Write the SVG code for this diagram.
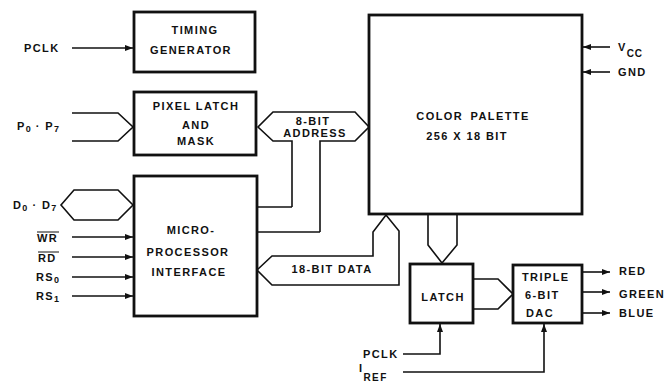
<svg xmlns="http://www.w3.org/2000/svg" width="664" height="383" viewBox="0 0 664 383">
<defs>
<marker id="arr" viewBox="0 0 8 6" refX="8" refY="3" markerWidth="8" markerHeight="6" markerUnits="userSpaceOnUse" orient="auto">
<path d="M0,0 L8,3 L0,6 z" fill="#111"/>
</marker>
<style>
.box{fill:#fff;stroke:#111;stroke-width:2.8}
.ln{fill:none;stroke:#111;stroke-width:1.6;stroke-linejoin:miter}
.ar{fill:none;stroke:#111;stroke-width:1.6;marker-end:url(#arr)}
.t{font-family:"Liberation Sans",Arial,sans-serif;font-weight:bold;font-size:11px;letter-spacing:1.4px;fill:#111}
.m{text-anchor:middle}
.s{font-size:9px;letter-spacing:0.6px}
</style>
</defs>
<rect width="664" height="383" fill="#fff"/>

<g id="connectors">
<line class="ar" x1="72" y1="48" x2="133" y2="48"/>
<path class="ln" d="M72,113 L118,113 L133,127 L118,141 L72,141"/>
<path class="ln" d="M133,205 L118,190 L74,190 L61,205 L74,220 L118,220 Z"/>
<line class="ar" x1="72" y1="237" x2="133" y2="237"/>
<line class="ar" x1="72" y1="257" x2="133" y2="257"/>
<line class="ar" x1="72" y1="277" x2="133" y2="277"/>
<line class="ar" x1="72" y1="296" x2="133" y2="296"/>
<path class="ln" d="M292,207 L292,141 L273,141 L258,127 L273,112 L355,112 L369,127 L355,141 L320,141 L320,232"/>
<path class="ln" d="M257,207 L292,207"/>
<path class="ln" d="M257,232 L320,232"/>
<path class="ln" d="M257,270 L272,256 L373,256 L373,232 L386,215 L399,231 L399,285 L272,285 Z"/>
<path class="ln" d="M428,214 L428,245 L442,263 L457,245 L457,214"/>
<path class="ln" d="M473,279 L498,279 L513,294 L498,309 L473,309"/>
<line class="ar" x1="610" y1="47" x2="583" y2="47"/>
<line class="ar" x1="610" y1="72" x2="583" y2="72"/>
<line class="ar" x1="582" y1="272" x2="610" y2="272"/>
<line class="ar" x1="582" y1="292" x2="610" y2="292"/>
<line class="ar" x1="582" y1="313" x2="610" y2="313"/>
<path class="ar" d="M403,354 L440,354 L440,324"/>
<path class="ar" d="M403,372 L544,372 L544,324"/>
</g>

<g id="timing">
<rect class="box" x="134" y="12" width="121" height="60"/>
<text class="t m" x="195" y="34">TIMING</text>
<text class="t m" x="191" y="54">GENERATOR</text>
</g>

<g id="pixel-latch">
<rect class="box" x="134" y="92" width="122" height="63"/>
<text class="t m" x="196" y="110">PIXEL LATCH</text>
<text class="t m" x="196" y="129">AND</text>
<text class="t m" x="196" y="145">MASK</text>
</g>

<g id="micro">
<rect class="box" x="134" y="176" width="123" height="140"/>
<text class="t m" x="191" y="234">MICRO-</text>
<text class="t m" x="188" y="256">PROCESSOR</text>
<text class="t m" x="189" y="276">INTERFACE</text>
</g>

<g id="palette">
<rect class="box" x="369" y="15" width="213" height="199"/>
<text class="t m" x="473" y="120" word-spacing="3">COLOR PALETTE</text>
<text class="t m" x="467" y="140">256 X 18 BIT</text>
</g>

<g id="latch">
<rect class="box" x="410" y="264" width="63" height="59"/>
<text class="t m" x="443" y="301">LATCH</text>
</g>

<g id="dac">
<rect class="box" x="513" y="265" width="69" height="58"/>
<text class="t" x="522" y="281">TRIPLE</text>
<text class="t" x="525" y="299">6-BIT</text>
<text class="t" x="526" y="317">DAC</text>
</g>

<g id="labels">
<text class="t" x="24" y="52">PCLK</text>
<text class="t" x="17" y="130">P<tspan class="s" dy="2">0</tspan><tspan dy="-2"> · P</tspan><tspan class="s" dy="2">7</tspan></text>
<text class="t" x="13" y="209">D<tspan class="s" dy="2">0</tspan><tspan dy="-2"> · D</tspan><tspan class="s" dy="2">7</tspan></text>
<text class="t" x="37" y="242">WR</text>
<line x1="37" y1="232" x2="59" y2="232" stroke="#111" stroke-width="1"/>
<text class="t" x="38" y="262">RD</text>
<line x1="38" y1="252" x2="59" y2="252" stroke="#111" stroke-width="1"/>
<text class="t" x="36" y="281">RS<tspan class="s" dy="2">0</tspan></text>
<text class="t" x="36" y="300">RS<tspan class="s" dy="2">1</tspan></text>
<text class="t m" x="313" y="125">8-BIT</text>
<text class="t m" x="315" y="137">ADDRESS</text>
<text class="t m" x="332" y="273">18-BIT DATA</text>
<text class="t" x="618" y="51">V<tspan dy="6" font-size="10" letter-spacing="0.8">CC</tspan></text>
<text class="t" x="618" y="76">GND</text>
<text class="t" x="619" y="275">RED</text>
<text class="t" x="619" y="298">GREEN</text>
<text class="t" x="619" y="317">BLUE</text>
<text class="t" x="363" y="358">PCLK</text>
<text class="t" x="359" y="372" font-size="8">I<tspan dy="9" font-size="10">REF</tspan></text>
</g>
</svg>
